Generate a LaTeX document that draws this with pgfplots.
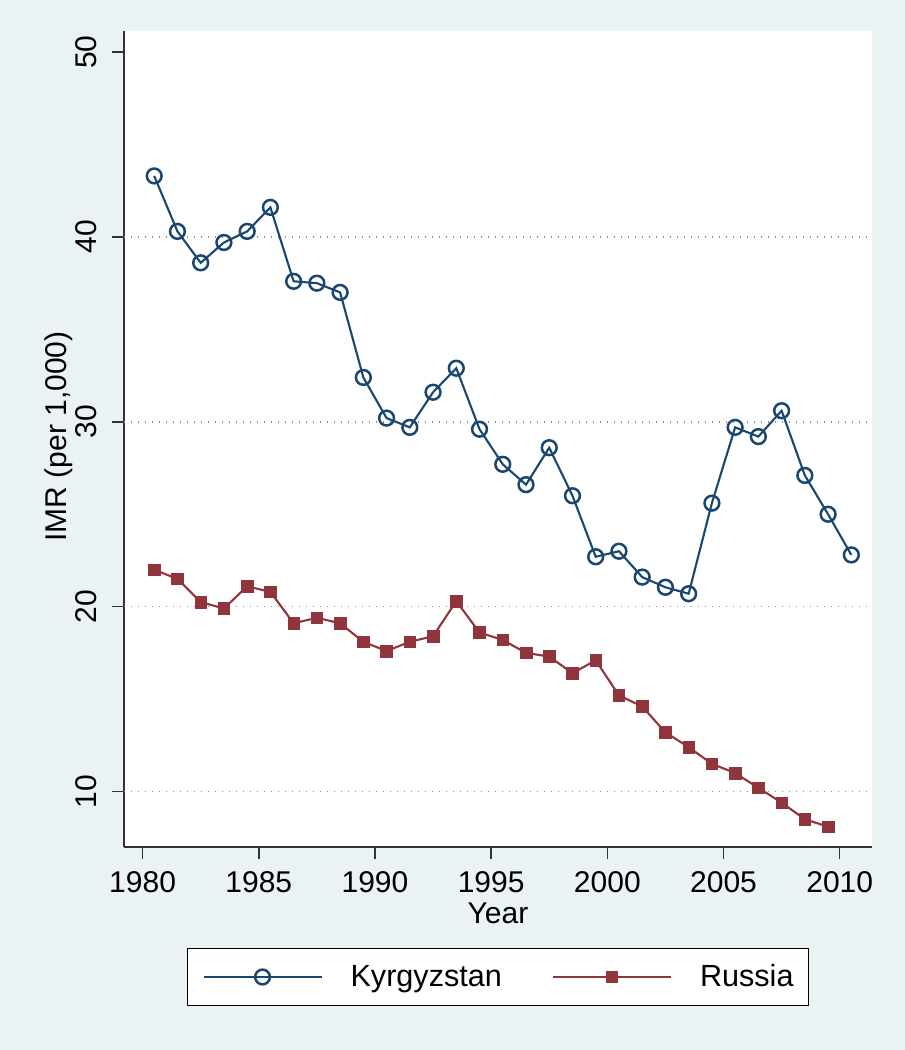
\documentclass[border=0pt]{standalone}
\usepackage{pgfplots}
\pgfplotsset{compat=1.18}
\usepackage{fontspec}
\setmainfont{Liberation Sans}
\definecolor{bg}{HTML}{EAF2F3}
\definecolor{kgz}{HTML}{1A476F}
\definecolor{rus}{HTML}{90353B}
\definecolor{axc}{HTML}{333333}
\pgfplotstableread{
year imr
1980.5 43.3
1981.5 40.3
1982.5 38.6
1983.5 39.7
1984.5 40.3
1985.5 41.6
1986.5 37.6
1987.5 37.5
1988.5 37.0
1989.5 32.4
1990.5 30.2
1991.5 29.7
1992.5 31.6
1993.5 32.9
1994.5 29.6
1995.5 27.7
1996.5 26.6
1997.5 28.6
1998.5 26.0
1999.5 22.7
2000.5 23.0
2001.5 21.6
2002.5 21.05
2003.5 20.7
2004.5 25.6
2005.5 29.7
2006.5 29.2
2007.5 30.6
2008.5 27.1
2009.5 25.0
2010.5 22.8
}\kgztable
\pgfplotstableread{
year imr
1980.5 22.0
1981.5 21.5
1982.5 20.25
1983.5 19.9
1984.5 21.1
1985.5 20.8
1986.5 19.1
1987.5 19.4
1988.5 19.1
1989.5 18.1
1990.5 17.6
1991.5 18.1
1992.5 18.4
1993.5 20.3
1994.5 18.6
1995.5 18.2
1996.5 17.5
1997.5 17.3
1998.5 16.4
1999.5 17.1
2000.5 15.2
2001.5 14.6
2002.5 13.2
2003.5 12.4
2004.5 11.5
2005.5 11.0
2006.5 10.2
2007.5 9.4
2008.5 8.5
2009.5 8.1
}\rustable
\begin{document}
\begin{tikzpicture}
\fill[bg] (0pt,0pt) rectangle (452.5pt,525pt);
\begin{axis}[
  at={(62pt,101.5pt)}, anchor=south west,
  scale only axis, width=374pt, height=408pt,
  xmin=1979.2, xmax=2011.39, ymin=7, ymax=51.14,
  axis background/.style={fill=white},
  axis x line*=bottom, axis y line*=left,
  axis line style={-, draw=axc, line width=0.75pt},
  tick align=outside, major tick length=6pt,
  tick style={draw=axc, line width=0.75pt},
  xtick={1980,1985,...,2010}, ytick={10,20,30,40,50},
  minor tick num=0,
  /pgf/number format/1000 sep={},
  /pgf/number format/assume math mode=true,
  ticklabel style={font=\fontsize{15}{18}\selectfont},
  xticklabel style={yshift=-2.6pt},
  yticklabel style={xshift=-4pt, rotate=90, anchor=south},
  extra y ticks={10,20,30,40}, extra y tick labels={},
  extra y tick style={grid=major, tick style={draw=none}},
  major grid style={draw=black!45, line width=0.7pt, dash pattern=on 0.7pt off 2.8pt},
  xlabel={Year}, ylabel={IMR (per 1,000)},
  label style={font=\fontsize{15}{18}\selectfont},
  xlabel style={at={(axis description cs:0.5,-0.0809)}, anchor=center},
  ylabel style={at={(axis description cs:-0.0869,0.503)}, anchor=center},
  legend columns=2,
  legend style={at={(0.5,-0.1593)}, anchor=center, draw=black, line width=0.6pt, fill=white,
    font=\fontsize{15.3}{18}\selectfont, inner xsep=7.5pt, inner ysep=8pt,
    nodes={inner sep=0pt},
    /tikz/every odd column/.append style={column sep=14pt},
    /tikz/every even column/.append style={column sep=25pt}},
  legend image code/.code={\draw[mark repeat=2,mark phase=2,#1] plot coordinates {(0pt,0pt) (29.5pt,0pt) (59pt,0pt)};},
]
\addplot[kgz, line width=1.05pt, mark=o, mark size=3.7pt, mark options={line width=1.25pt, solid}] table[x=year,y=imr] {\kgztable};
\addlegendentry{Kyrgyzstan}
\addplot[rus, line width=1.05pt, mark=square*, mark size=2.9pt, mark options={fill=rus, draw=rus, line width=0.3pt}] table[x=year,y=imr] {\rustable};
\addlegendentry{Russia}
\end{axis}
\end{tikzpicture}
\end{document}
